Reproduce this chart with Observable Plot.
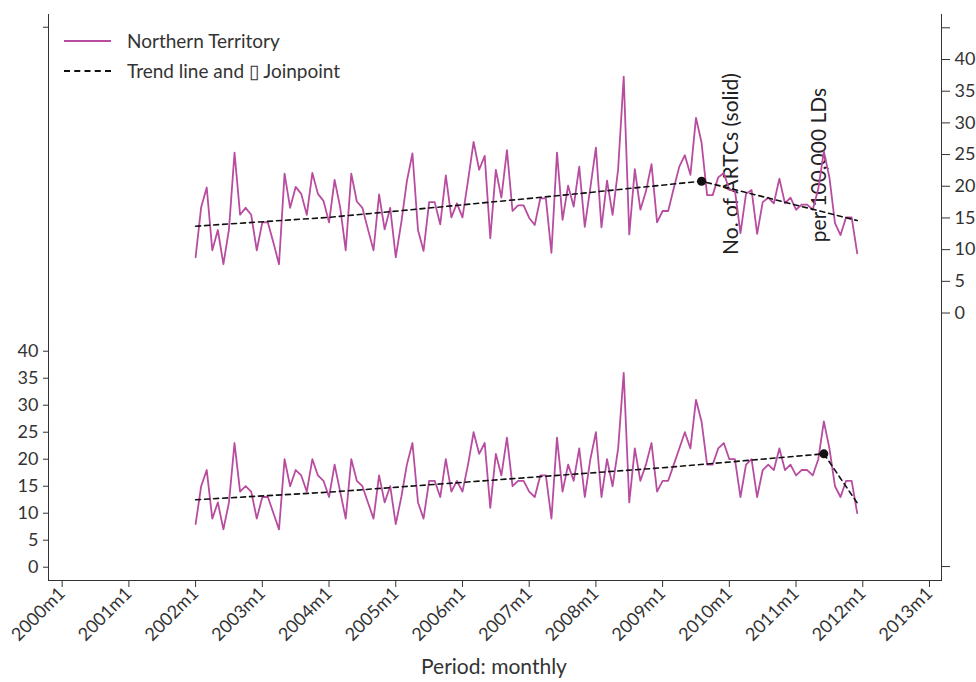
<!DOCTYPE html>
<html>
<head>
<meta charset="utf-8">
<script src="https://cdn.jsdelivr.net/npm/d3@7"></script>
<script src="https://cdn.jsdelivr.net/npm/@observablehq/plot@0.6"></script>
<style>
  html, body { margin: 0; padding: 0; background: #fff; }
  #wrap { position: relative; width: 976px; height: 682px; font-family: Lato, "Open Sans", sans-serif; color: #333; }
  #wrap svg { position: absolute; left: 0; top: 0; }
  .frame { position: absolute; border-left: 1.5px solid #333; border-right: 1.5px solid #333; border-bottom: 1.5px solid #333; box-sizing: border-box; }
  .lbl { position: absolute; white-space: nowrap; font-size: 19px; color: #333; }
  .rot { position: absolute; white-space: nowrap; font-size: 21px; color: #222; transform: translate(-50%, -50%) rotate(-90deg); }
  .legline { position: absolute; width: 47px; height: 0; }
</style>
</head>
<body>
<div id="wrap"></div>
<script>
// ---------------- data ----------------
const startYear = 2002;
const nMonths = 120; // 2002m1 .. 2011m12

// Lower panel (left axis): No. of ARTCs
const countValues = [
  8,15,18,9,12,7,12,23,14,15,14,9,
  13,13,10,7,20,15,18,17,14,20,17,16,
  13,19,14,9,20,16,15,12,9,17,12,15,
  8,13,19,23,12,9,16,16,13,20,14,16,
  14,19,25,21,23,11,21,17,24,15,16,16,
  14,13,17,17,9,24,14,19,16,22,13,20,
  25,13,20,15,22,36,12,22,16,19,23,14,
  16,16,19,22,25,22,31,27,19,19,22,23,
  20,20,13,19,20,13,18,19,18,22,18,19,
  17,18,18,17,20,27,22,15,13,16,16,10
];

// Upper panel (right axis): per 100,000 LDs
const rateValues = [
  8.8,16.7,19.8,9.9,13.1,7.7,13.2,25.3,15.5,16.6,15.5,9.9,
  14.3,14.3,11.1,7.7,22.0,16.6,19.9,18.8,15.5,22.1,18.8,17.7,
  14.3,21.0,16.7,9.9,22.0,17.6,16.6,13.2,9.9,18.7,13.2,16.6,
  8.8,14.3,20.8,25.2,13.1,9.8,17.5,17.5,14.0,21.7,15.1,17.3,
  15.1,20.9,27.0,22.6,24.8,11.8,22.6,18.2,25.7,16.1,17.0,17.0,
  15.0,13.9,18.1,18.1,9.5,25.3,14.7,20.1,16.8,23.1,13.6,19.8,
  26.1,13.5,20.9,15.5,22.7,37.3,12.4,22.7,16.3,19.2,23.5,14.3,
  16.1,16.1,19.7,23.1,24.9,21.8,30.8,26.9,18.6,18.6,21.4,22.1,
  19.4,19.4,12.6,18.8,19.4,12.5,17.5,18.2,17.3,21.2,17.3,18.2,
  16.3,17.1,17.1,16.3,19.6,25.5,21.4,14.2,12.3,15.1,15.1,9.4
];

// Trend lines (month index from 2002m1, value)
const countTrendMonth = [0, 24, 65, 85, 113, 119];
const countTrendValue = [12.5, 13.9, 17.0, 18.5, 21.0, 11.9];
const countJoinMonth = [113];
const countJoinValue = [21.0];

const rateTrendMonth = [0, 24, 40, 65, 91, 119];
const rateTrendValue = [13.7, 15.1, 16.4, 18.5, 20.8, 14.6];
const rateJoinMonth = [91];
const rateJoinValue = [20.8];

// Axis ticks
const xTickYears = [2000,2001,2002,2003,2004,2005,2006,2007,2008,2009,2010,2011,2012,2013];
const leftTicks = [0,5,10,15,20,25,30,35,40];
const leftExtraTicks = [100];
const rightTicks = [0,5,10,15,20,25,30,35,40];
const rightExtraTicks = [-40,45];

// ---------------- build ----------------
const toT = m => startYear + m / 12;
const countData = countValues.map((v, i) => ({t: toT(i), v}));
const rateData = rateValues.map((v, i) => ({t: toT(i), v}));
const countTrend = countTrendMonth.map((m, i) => ({t: toT(m), v: countTrendValue[i]}));
const rateTrend = rateTrendMonth.map((m, i) => ({t: toT(m), v: rateTrendValue[i]}));
const countJoin = countJoinMonth.map((m, i) => ({t: toT(m), v: countJoinValue[i]}));
const rateJoin = rateJoinMonth.map((m, i) => ({t: toT(m), v: rateJoinValue[i]}));

const purple = "#b84ca0";
const ink = "#333";
const common = {
  width: 976, height: 682,
  marginLeft: 49, marginRight: 35, marginTop: 14, marginBottom: 102,
  style: {fontFamily: "Lato, 'Open Sans', sans-serif", fontSize: "18px", color: ink, background: "transparent", overflow: "visible"}
};

const lower = Plot.plot({
  ...common,
  x: {domain: [1999.81, 2013.18], axis: null},
  y: {domain: [-2.46, 102.36], axis: null},
  marks: [
    Plot.axisX(xTickYears, {tickFormat: d => `${d}m1`, tickRotate: -45, tickSize: 7, tickPadding: 3, fontSize: 18, label: null, stroke: ink}),
    Plot.axisY(leftTicks, {anchor: "left", tickSize: 6, tickPadding: 5, fontSize: 18, label: null, stroke: ink}),
    Plot.axisY(leftExtraTicks, {anchor: "left", tickSize: 6, tickFormat: () => "", label: null, stroke: ink}),
    Plot.line(countData, {x: "t", y: "v", stroke: purple, strokeWidth: 1.8}),
    Plot.line(countTrend, {x: "t", y: "v", stroke: "#111", strokeWidth: 1.6, strokeDasharray: "5,4"}),
    Plot.dot(countJoin, {x: "t", y: "v", r: 4.5, fill: "#111"})
  ]
});

const upper = Plot.plot({
  ...common,
  x: {domain: [1999.81, 2013.18], axis: null},
  y: {domain: [-42.2, 47.1], axis: null},
  marks: [
    Plot.axisY(rightTicks, {anchor: "right", tickSize: 8, tickPadding: 5, fontSize: 18, label: null, stroke: ink}),
    Plot.axisY(rightExtraTicks, {anchor: "right", tickSize: 8, tickFormat: () => "", label: null, stroke: ink}),
    Plot.line(rateData, {x: "t", y: "v", stroke: purple, strokeWidth: 1.8}),
    Plot.line(rateTrend, {x: "t", y: "v", stroke: "#111", strokeWidth: 1.6, strokeDasharray: "5,4"}),
    Plot.dot(rateJoin, {x: "t", y: "v", r: 4.5, fill: "#111"})
  ]
});

const wrap = document.getElementById("wrap");
wrap.innerHTML = `
  <div class="frame" style="left:48px; top:14px; width:894px; height:567px;"></div>
  <div class="legline" style="left:64px; top:40px; border-top:2px solid ${purple};"></div>
  <div class="lbl" style="left:127px; top:29px;">Northern Territory</div>
  <div class="legline" style="left:64px; top:70px; border-top:2px dashed #111;"></div>
  <div class="lbl" style="left:127px; top:59px;">Trend line and \u25AF Joinpoint</div>
  <div class="rot" style="left:729px; top:164px;">No. of ARTCs (solid)</div>
  <div class="rot" style="left:817px; top:165px;">per 100,000 LDs</div>
  <div class="lbl" style="left:494px; top:653px; font-size:21px; transform:translateX(-50%);">Period: monthly</div>
`;
wrap.appendChild(lower);
wrap.appendChild(upper);
</script>
</body>
</html>
